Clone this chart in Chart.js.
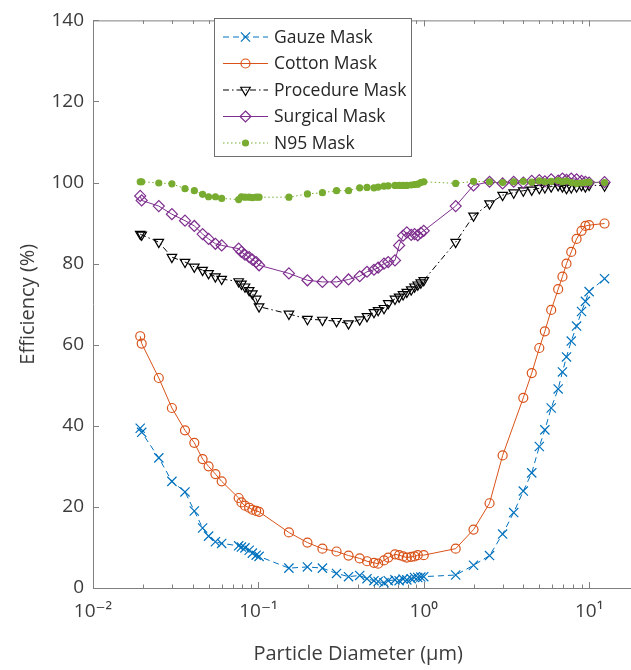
<!DOCTYPE html>
<html>
<head>
<meta charset="utf-8">
<script src="https://cdn.jsdelivr.net/npm/chart.js@4.4.0/dist/chart.umd.min.js"></script>
<style>
  html, body { margin: 0; padding: 0; background: #fff; overflow: hidden; }
  #wrap { width: 631px; height: 670px; }
</style>
</head>
<body>
<div id="wrap"><canvas id="chart" width="631" height="670"></canvas></div>
<script>
// particle diameters (um), shared by all masks
const diameters = [0.0193, 0.0197, 0.025, 0.030, 0.036, 0.041, 0.046, 0.050, 0.055, 0.060,
  0.076, 0.079, 0.083, 0.088, 0.092, 0.097, 0.101, 0.153, 0.198, 0.244,
  0.297, 0.351, 0.41, 0.454, 0.50, 0.53, 0.575, 0.61, 0.67, 0.71,
  0.75, 0.79, 0.84, 0.88, 0.92, 0.96, 1.0, 1.56, 2.0, 2.5,
  3.0, 3.5, 4.0, 4.5, 5.0, 5.4, 5.9, 6.5, 6.9, 7.3,
  7.8, 8.4, 9.0, 9.5, 10.0, 12.4];

const gauze = [39.4, 38.4, 32.1, 26.3, 23.7, 19.0, 14.8, 12.8, 11.4, 11.0,
  10.4, 10.1, 9.9, 9.3, 8.6, 8.1, 7.8, 4.9, 5.2, 4.9,
  3.6, 2.8, 3.1, 2.3, 1.8, 1.6, 1.3, 1.8, 2.0, 1.8,
  2.2, 2.0, 2.3, 2.6, 2.6, 2.7, 2.8, 3.2, 5.6, 8.0,
  13.3, 18.6, 23.9, 28.4, 34.9, 39.0, 44.4, 49.1, 53.3, 57.0,
  60.9, 64.6, 68.2, 70.7, 73.1, 76.3];

const cotton = [62.1, 60.3, 51.8, 44.4, 38.9, 35.8, 31.8, 30.0, 28.1, 26.3,
  22.2, 21.1, 20.3, 19.8, 19.3, 19.0, 18.8, 13.7, 11.2, 9.7,
  9.0, 8.0, 7.3, 6.6, 6.2, 6.0, 6.8, 7.5, 8.3, 8.1,
  7.8, 7.5, 7.7, 7.8, 8.1, null, 8.1, 9.7, 14.4, 20.9,
  32.7, null, 46.9, 53.0, 59.2, 63.3, 68.6, 73.7, 76.8, 80.0,
  82.9, 86.1, 88.1, 89.3, 89.5, 89.9];

const procedure = [87.3, 87.1, 85.3, 81.6, 80.4, 79.2, 78.4, 77.6, 76.8, 76.2,
  75.6, 75.0, 74.3, 73.4, 72.6, 71.3, 69.4, 67.6, 66.3, 66.1,
  65.8, 65.2, 66.2, 67.0, 68.0, 68.5, 69.0, 70.2, 71.3, 71.8,
  72.4, 73.0, 73.6, 74.3, 74.8, 75.3, 75.9, 85.3, 91.8, 94.8,
  96.9, 97.5, 98.0, 98.2, 98.6, 98.8, 99.0, 99.3, 99.0, 98.6,
  98.8, 99.0, 99.3, 99.0, 99.4, 99.2];

const surgical = [96.7, 95.6, 94.2, 92.2, 90.6, 89.3, 87.3, 86.1, 84.9, 84.5,
  83.7, 82.9, 82.2, 81.6, 81.0, 80.4, 79.6, 77.6, 75.9, 75.5,
  75.5, 76.1, 76.9, 78.0, 78.5, 79.0, 80.0, 80.4, 80.8, 84.5,
  86.9, 87.7, 87.1, 87.3, 87.0, 87.6, 88.1, 94.2, 99.3, 100.2,
  99.8, 100.2, 100.0, 100.4, 100.6, 100.3, 100.8, 100.5, 101.0, 100.7,
  101.0, 100.8, 100.4, 100.2, 100.0, 100.1];

const n95 = [100.2, 100.2, 99.9, 99.7, 98.5, 98.0, 97.1, 96.5, 96.5, 96.1,
  95.8, 96.5, 96.4, 96.4, 96.3, 96.4, 96.4, 96.4, 97.2, 97.5,
  98.0, 98.0, 98.7, 98.8, 98.7, 98.9, 99.1, 99.2, 99.3, 99.3,
  99.3, 99.3, 99.4, 99.5, 99.6, 100.0, 100.2, 99.8, 100.3, 100.2,
  100.0, 100.2, 100.3, 100.1, 100.4, 100.2, 100.3, 100.5, 100.2, 100.4,
  100.0, 99.8, 99.9, 100.0, 100.1, 100.0];

const seriesNames = ["Gauze Mask", "Cotton Mask", "Procedure Mask", "Surgical Mask", "N95 Mask"];
const xTickPowers = [-2, -1, 0, 1];
const supers = { "-": "\u207B", "0": "\u2070", "1": "\u00B9", "2": "\u00B2" };

const FONT = "'Open Sans', 'DejaVu Sans', sans-serif";
const AREA = { left: 93, top: 14, bottom: 588 };

function pts(values) {
  return diameters.map((d, i) => ({ x: d, y: values[i] }));
}

// marker shapes for the legend samples
function drawMarker(ctx, style, x, y, r, stroke, fill) {
  ctx.save();
  ctx.setLineDash([]);
  ctx.strokeStyle = stroke;
  ctx.fillStyle = fill;
  ctx.lineWidth = 1.2;
  ctx.beginPath();
  if (style === "crossRot") {
    const s = r * Math.SQRT1_2;
    ctx.moveTo(x - s, y - s); ctx.lineTo(x + s, y + s);
    ctx.moveTo(x - s, y + s); ctx.lineTo(x + s, y - s);
    ctx.stroke();
  } else if (style === "circle") {
    ctx.arc(x, y, r, 0, Math.PI * 2);
    ctx.fill(); ctx.stroke();
  } else if (style === "triangle") {
    for (let k = 0; k < 3; k++) {
      const a = Math.PI + k * 2 * Math.PI / 3;
      const px = x + Math.sin(a) * r, py = y - Math.cos(a) * r;
      k === 0 ? ctx.moveTo(px, py) : ctx.lineTo(px, py);
    }
    ctx.closePath(); ctx.fill(); ctx.stroke();
  } else if (style === "rectRot") {
    ctx.moveTo(x, y - r); ctx.lineTo(x + r, y); ctx.lineTo(x, y + r); ctx.lineTo(x - r, y);
    ctx.closePath(); ctx.fill(); ctx.stroke();
  }
  ctx.restore();
}

const axesPlugin = {
  id: "matlabAxes",
  beforeDatasetsDraw(chart) {
    const { ctx, chartArea } = chart;
    const xs = chart.scales.x, ys = chart.scales.y;
    ctx.save();
    ctx.strokeStyle = "#808080";
    ctx.lineWidth = 1;
    ctx.beginPath();
    ctx.moveTo(chartArea.left + 0.5, chartArea.top + 0.5);
    ctx.lineTo(chart.width, chartArea.top + 0.5);
    ctx.moveTo(chartArea.left + 0.5, chartArea.top);
    ctx.lineTo(chartArea.left + 0.5, chartArea.bottom + 0.5);
    ctx.lineTo(chart.width, chartArea.bottom + 0.5);
    ctx.stroke();
    ctx.beginPath();
    xs.ticks.forEach(t => {
      const v = t.value;
      const p = Math.floor(Math.log10(v) + 1e-9);
      const m = v / Math.pow(10, p);
      if (Math.abs(m - Math.round(m)) > 1e-6) return;
      const len = Math.round(m) === 1 ? 6 : 3.5;
      const px = Math.round(xs.getPixelForValue(v)) + 0.5;
      ctx.moveTo(px, chartArea.bottom); ctx.lineTo(px, chartArea.bottom - len);
      ctx.moveTo(px, chartArea.top); ctx.lineTo(px, chartArea.top + len);
    });
    ys.ticks.forEach(t => {
      const py = Math.round(ys.getPixelForValue(t.value)) + 0.5;
      ctx.moveTo(chartArea.left, py); ctx.lineTo(chartArea.left + 6, py);
    });
    ctx.stroke();
    ctx.restore();
  },
  afterDatasetsDraw(chart) {
    const { ctx } = chart;
    const box = { x: 214.5, y: 18.5, w: 197, h: 138 };
    ctx.save();
    ctx.fillStyle = "#fff";
    ctx.strokeStyle = "#6e6e6e";
    ctx.lineWidth = 1;
    ctx.fillRect(box.x, box.y, box.w, box.h);
    ctx.strokeRect(box.x, box.y, box.w, box.h);
    chart.data.datasets.forEach((ds, i) => {
      const y = 37 + i * 26.5;
      ctx.save();
      ctx.strokeStyle = ds.borderColor;
      ctx.lineWidth = ds.borderWidth;
      ctx.setLineDash(ds.borderDash || []);
      ctx.beginPath();
      ctx.moveTo(223, y); ctx.lineTo(268, y);
      ctx.stroke();
      ctx.restore();
      drawMarker(ctx, ds.pointStyle, 245.5, y, ds.pointRadius, ds.pointBorderColor, ds.pointBackgroundColor);
      ctx.fillStyle = "#262626";
      ctx.font = "17.5px " + FONT;
      ctx.textBaseline = "middle";
      ctx.textAlign = "left";
      ctx.fillText(ds.label, 274, y + 1);
    });
    ctx.restore();
  }
};

const styles = [
  { color: "#0072BD", dash: [6, 4], point: "crossRot", r: 6.5, fill: "rgba(0,0,0,0)", values: gauze, order: 5 },
  { color: "#D95319", dash: [], point: "circle", r: 4.5, fill: "rgba(0,0,0,0)", values: cotton, order: 4 },
  { color: "#000000", dash: [6, 3, 1.5, 3], point: "triangle", r: 5.5, fill: "rgba(0,0,0,0)", values: procedure, order: 3 },
  { color: "#7E2F8E", dash: [], point: "rectRot", r: 5.5, fill: "rgba(0,0,0,0)", values: surgical, order: 2 },
  { color: "#77AC30", dash: [1.5, 2.5], point: "circle", r: 3, fill: "#77AC30", values: n95, order: 1 }
];

new Chart(document.getElementById("chart"), {
  type: "line",
  data: {
    datasets: styles.map((s, i) => ({
      label: seriesNames[i],
      data: pts(s.values),
      borderColor: s.color,
      borderWidth: 1,
      borderDash: s.dash,
      pointStyle: s.point,
      pointRadius: s.r,
      pointRotation: s.point === "triangle" ? 180 : 0,
      pointBorderColor: s.color,
      pointBackgroundColor: s.fill,
      pointBorderWidth: 1.2,
      spanGaps: true,
      tension: 0,
      order: s.order
    }))
  },
  options: {
    responsive: false,
    animation: false,
    events: [],
    layout: { padding: { top: AREA.top, right: 0, left: 0, bottom: 0 } },
    plugins: { legend: { display: false }, tooltip: { enabled: false } },
    scales: {
      x: {
        type: "logarithmic",
        bounds: "data",
        min: 0.01,
        max: 16.1,
        grid: { display: false, drawTicks: false },
        border: { display: false },
        ticks: {
          autoSkip: false,
          maxRotation: 0,
          padding: 12,
          color: "#3c3c3c",
          font: { family: FONT, size: 19 },
          callback: (v) => {
            const p = Math.log10(v);
            if (Math.abs(p - Math.round(p)) > 1e-9) return "";
            const r = Math.round(p);
            if (!xTickPowers.includes(r)) return "";
            return "10" + String(r).split("").map(c => supers[c]).join("");
          }
        },
        title: {
          display: true,
          text: "Particle Diameter (\u03BCm)",
          color: "#3c3c3c",
          font: { family: FONT, size: 20 },
          padding: { top: 0, bottom: 4 }
        },
        afterFit: (scale) => {
          scale.height = 670 - AREA.bottom;
          scale.paddingLeft = 0;
          scale.paddingRight = 0;
        }
      },
      y: {
        min: 0,
        max: 140,
        grid: { display: false, drawTicks: false },
        border: { display: false },
        ticks: {
          stepSize: 20,
          padding: 9,
          color: "#3c3c3c",
          font: { family: FONT, size: 19 }
        },
        title: {
          display: true,
          text: "Efficiency (%)",
          color: "#3c3c3c",
          font: { family: FONT, size: 20 },
          padding: { top: 16, bottom: 0 }
        },
        afterFit: (scale) => { scale.width = AREA.left; }
      }
    }
  },
  plugins: [axesPlugin]
});
</script>
</body>
</html>
